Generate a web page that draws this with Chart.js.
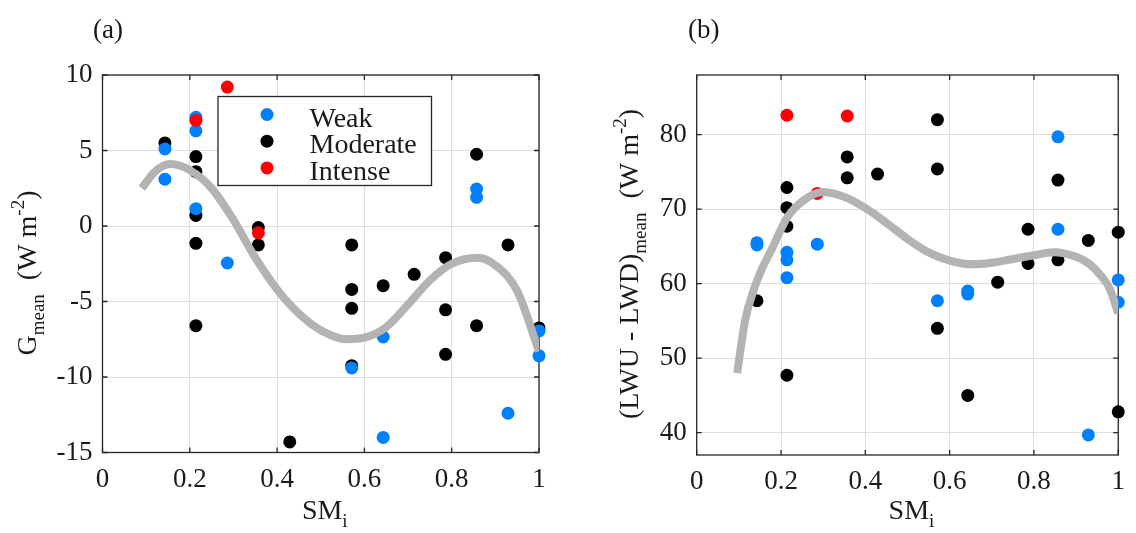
<!DOCTYPE html>
<html>
<head>
<meta charset="utf-8">
<script src="https://cdn.jsdelivr.net/npm/chart.js@4.4.1/dist/chart.umd.min.js"></script>
<style>
html, body { margin: 0; padding: 0; background: #fff; }
#wrap { position: relative; width: 1136px; height: 533px; }
.panel { position: absolute; top: 0; width: 568px; height: 533px; }
</style>
</head>
<body>
<div id="wrap">
  <div class="panel" style="left:0"><canvas id="panelA"></canvas></div>
  <div class="panel" style="left:568px"><canvas id="panelB"></canvas></div>
</div>
<script>
// ---- data ----
const xTicks = [0, 0.2, 0.4, 0.6, 0.8, 1];
const gTicks = [-15, -10, -5, 0, 5, 10];
const lwTicks = [40, 50, 60, 70, 80];

// (a) G_mean
const weakSmA = [0.143, 0.143, 0.214, 0.214, 0.214, 0.286, 0.571, 0.643, 0.643, 0.857, 0.857, 0.929, 1.0, 1.0];
const weakGA  = [5.1, 3.1, 7.2, 6.3, 1.15, -2.45, -9.4, -7.35, -14.0, 2.45, 1.9, -12.4, -6.95, -8.6];
const modSmA  = [0.143, 0.214, 0.214, 0.214, 0.214, 0.214, 0.357, 0.357, 0.429, 0.571, 0.571, 0.571, 0.571, 0.643, 0.714, 0.786, 0.786, 0.786, 0.857, 0.857, 0.929, 1.0];
const modGA   = [5.5, 4.6, 3.6, 0.7, -1.15, -6.6, -0.1, -1.25, -14.3, -1.25, -4.2, -5.45, -9.25, -3.95, -3.2, -2.1, -5.55, -8.5, 4.75, -6.6, -1.25, -6.75];
const intSmA  = [0.214, 0.286, 0.357];
const intGA   = [7.0, 9.2, -0.45];
const fitSmA  = [0.09, 0.12, 0.155, 0.2, 0.25, 0.3, 0.35, 0.4, 0.45, 0.5, 0.56, 0.6, 0.65, 0.7, 0.75, 0.8, 0.86, 0.9, 0.95, 1.0];
const fitGA   = [2.5, 3.6, 4.1, 3.7, 2.5, 0.4, -2.1, -4.2, -5.8, -6.9, -7.5, -7.4, -6.7, -5.2, -3.6, -2.5, -2.1, -2.6, -4.3, -8.3];

// (b) (LWU - LWD)_mean
const weakSmB = [0.143, 0.143, 0.214, 0.214, 0.214, 0.286, 0.571, 0.643, 0.643, 0.857, 0.857, 0.929, 1.0, 1.0];
const weakLwB = [65.5, 65.2, 64.2, 63.2, 60.8, 65.3, 57.7, 59.0, 58.6, 79.7, 67.3, 39.7, 60.5, 57.5];
const modSmB  = [0.143, 0.214, 0.214, 0.214, 0.214, 0.357, 0.357, 0.429, 0.571, 0.571, 0.571, 0.643, 0.714, 0.786, 0.786, 0.857, 0.857, 0.929, 1.0, 1.0];
const modLwB  = [57.7, 72.9, 70.2, 67.7, 47.7, 77.0, 74.2, 74.7, 82.0, 75.4, 54.0, 45.0, 60.2, 67.3, 62.7, 73.9, 63.2, 65.8, 66.9, 42.8];
const intSmB  = [0.214, 0.286, 0.357];
const intLwB  = [82.6, 72.1, 82.5];
const fitSmB  = [0.096, 0.115, 0.135, 0.155, 0.177, 0.215, 0.254, 0.3, 0.36, 0.42, 0.47, 0.5, 0.55, 0.6, 0.654, 0.7, 0.74, 0.8, 0.846, 0.9, 0.93, 0.96, 0.98, 1.0];
const fitLwB  = [48.0, 55.1, 59.1, 62.0, 64.5, 68.9, 71.2, 72.3, 71.4, 69.4, 67.3, 66.0, 64.2, 63.1, 62.6, 62.8, 63.2, 63.8, 64.2, 63.6, 62.7, 61.0, 59.3, 56.0];

const FONT = '"Liberation Serif", "DejaVu Serif", serif';
const BLUE = '#0080ff', BLACK = '#000000', RED = '#ff0000', GREY = '#b3b3b3';

function pts(xs, ys) { return xs.map((x, i) => ({ x: x, y: ys[i] })); }

function dots(label, xs, ys, color, order) {
  return { label: label, data: pts(xs, ys), backgroundColor: color, borderWidth: 0,
           pointRadius: 6.5, pointHoverRadius: 6.5, order: order, clip: false };
}

function fitLine(xs, ys) {
  return { type: 'line', label: 'fit', data: pts(xs, ys), borderColor: GREY, borderWidth: 8,
           pointRadius: 0, showLine: true, fill: false, cubicInterpolationMode: 'monotone',
           borderCapStyle: 'butt', order: 0 };
}

// draw text with sub/superscripts, centred at (x, y)
function richText(ctx, parts, x, y, angle) {
  ctx.save();
  ctx.translate(x, y);
  ctx.rotate(angle);
  ctx.fillStyle = '#1a1a1a';
  ctx.textBaseline = 'alphabetic';
  ctx.textAlign = 'left';
  let total = 0;
  parts.forEach(p => {
    ctx.font = (p[1] ? 19 : 28) + 'px ' + FONT;
    total += ctx.measureText(p[0]).width;
  });
  let cx = -total / 2;
  parts.forEach(p => {
    ctx.font = (p[1] ? 19 : 28) + 'px ' + FONT;
    const dy = p[1] === 'sub' ? 8 : p[1] === 'sup' ? -12 : 0;
    ctx.fillText(p[0], cx, dy);
    cx += ctx.measureText(p[0]).width;
  });
  ctx.restore();
}

// axes box with inward ticks (MATLAB style)
const frame = {
  id: 'frame',
  beforeDatasetsDraw(chart) {
    const { ctx, chartArea: a, scales } = chart;
    ctx.save();
    ctx.strokeStyle = '#262626';
    ctx.lineWidth = 1.3;
    ctx.strokeRect(a.left, a.top, a.right - a.left, a.bottom - a.top);
    ctx.beginPath();
    scales.x.ticks.forEach(t => {
      const px = scales.x.getPixelForValue(t.value);
      ctx.moveTo(px, a.bottom); ctx.lineTo(px, a.bottom - 5);
      ctx.moveTo(px, a.top); ctx.lineTo(px, a.top + 5);
    });
    scales.y.ticks.forEach(t => {
      const py = scales.y.getPixelForValue(t.value);
      ctx.moveTo(a.left, py); ctx.lineTo(a.left + 5, py);
      ctx.moveTo(a.right, py); ctx.lineTo(a.right - 5, py);
    });
    ctx.stroke();
    ctx.restore();
  }
};

function titles(cfg) {
  return {
    id: 'titles',
    afterDraw(chart) {
      const { ctx, chartArea: a } = chart;
      ctx.save();
      ctx.fillStyle = '#1a1a1a';
      ctx.font = '27px ' + FONT;
      ctx.textAlign = 'left';
      ctx.textBaseline = 'alphabetic';
      ctx.fillText(cfg.panel, cfg.panelX, 38);
      ctx.restore();
      richText(ctx, [['SM', ''], ['i', 'sub']], (a.left + a.right) / 2 + 4, 519, 0);
      richText(ctx, cfg.yTitle, cfg.yTitleX, cfg.yTitleY, -Math.PI / 2);
    }
  };
}

// legend box drawn inside the axes of panel (a)
const boxLegend = {
  id: 'boxLegend',
  afterDraw(chart) {
    const { ctx, chartArea: a } = chart;
    const left = a.left + 115.5, top = a.top + 21.5, w = 213.5, h = 89;
    ctx.save();
    ctx.fillStyle = '#fff';
    ctx.fillRect(left, top, w, h);
    ctx.strokeStyle = '#262626';
    ctx.lineWidth = 1.3;
    ctx.strokeRect(left, top, w, h);
    chart.data.datasets.slice(0, 3).forEach((ds, i) => {
      const cy = top + 18 + i * 26.7;
      ctx.fillStyle = ds.backgroundColor;
      ctx.beginPath();
      ctx.arc(left + 49, cy, 6.5, 0, Math.PI * 2);
      ctx.fill();
      ctx.fillStyle = '#1a1a1a';
      ctx.font = '28px ' + FONT;
      ctx.textBaseline = 'alphabetic';
      ctx.fillText(ds.label, left + 91.5, cy + 12);
    });
    ctx.restore();
  }
};

function scalesFor(yMin, yMax, yTickVals, yWidth, xHeight) {
  const tickFont = { family: FONT, size: 27 };
  return {
    x: {
      type: 'linear', min: 0, max: 1,
      afterBuildTicks: s => { s.ticks = xTicks.map(v => ({ value: v })); },
      afterFit: s => { s.height = xHeight; },
      ticks: { font: tickFont, color: '#1a1a1a', padding: 11, maxRotation: 0, callback: v => String(v) },
      grid: { color: '#dedede', lineWidth: 1, drawTicks: false },
      border: { display: false }
    },
    y: {
      type: 'linear', min: yMin, max: yMax,
      afterBuildTicks: s => { s.ticks = yTickVals.map(v => ({ value: v })); },
      afterFit: s => { s.width = yWidth; },
      ticks: { font: tickFont, color: '#1a1a1a', padding: 10, callback: v => String(v) },
      grid: { color: '#dedede', lineWidth: 1, drawTicks: false },
      border: { display: false }
    }
  };
}

new Chart(document.getElementById('panelA'), {
  type: 'scatter',
  data: {
    datasets: [
      dots('Weak', weakSmA, weakGA, BLUE, 2),
      dots('Moderate', modSmA, modGA, BLACK, 3),
      dots('Intense', intSmA, intGA, RED, 1),
      fitLine(fitSmA, fitGA)
    ]
  },
  options: {
    responsive: true, maintainAspectRatio: false, animation: false, events: [],
    layout: { padding: { left: 0, right: 29, top: 75, bottom: 0 } },
    scales: scalesFor(-15, 10, gTicks, 102.5, 80.5),
    plugins: { legend: { display: false }, tooltip: { enabled: false } }
  },
  plugins: [frame, boxLegend, titles({
    panel: '(a)', panelX: 93,
    yTitle: [['G', ''], ['mean', 'sub'], ['  (W m', ''], ['-2', 'sup'], [')', '']],
    yTitleX: 36, yTitleY: 273
  })]
});

new Chart(document.getElementById('panelB'), {
  type: 'scatter',
  data: {
    datasets: [
      dots('Weak', weakSmB, weakLwB, BLUE, 2),
      dots('Moderate', modSmB, modLwB, BLACK, 3),
      dots('Intense', intSmB, intLwB, RED, 1),
      fitLine(fitSmB, fitLwB)
    ]
  },
  options: {
    responsive: true, maintainAspectRatio: false, animation: false, events: [],
    layout: { padding: { left: 0, right: 6, top: 75, bottom: 0 } },
    scales: scalesFor(37, 88, lwTicks, 128.7, 78),
    plugins: { legend: { display: false }, tooltip: { enabled: false } }
  },
  plugins: [frame, titles({
    panel: '(b)', panelX: 120,
    yTitle: [['(LWU - LWD)', ''], ['mean', 'sub'], ['  (W m', ''], ['-2', 'sup'], [')', '']],
    yTitleX: 70, yTitleY: 264
  })]
});
</script>
</body>
</html>
